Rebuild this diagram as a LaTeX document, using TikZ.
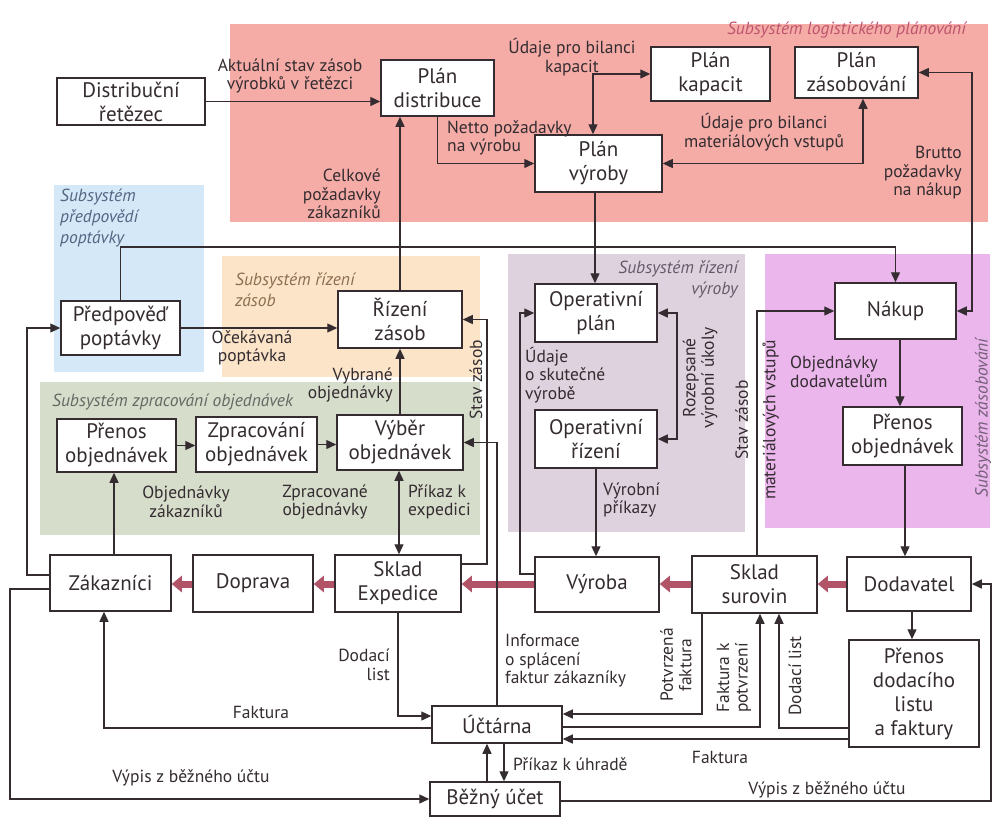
\documentclass[tikz,border=0pt]{standalone}
\usepackage{fontspec}
\setmainfont{PT Sans}
\usetikzlibrary{arrows.meta}
\definecolor{ink}{RGB}{52,44,48}
\definecolor{flow}{RGB}{178,84,104}
\definecolor{bgpink}{RGB}{245,172,167}
\definecolor{bgblue}{RGB}{212,232,247}
\definecolor{bgorange}{RGB}{251,228,200}
\definecolor{bggreen}{RGB}{214,221,203}
\definecolor{bgpurple}{RGB}{222,210,222}
\definecolor{bgmagenta}{RGB}{234,182,236}
\definecolor{tpink}{RGB}{190,85,110}
\definecolor{tblue}{RGB}{85,100,130}
\definecolor{torange}{RGB}{140,110,80}
\definecolor{tgreen}{RGB}{100,105,100}
\definecolor{tpurple}{RGB}{100,90,105}
\definecolor{tmagenta}{RGB}{115,95,120}
\begin{document}
\begin{tikzpicture}[x=1pt,y=-1pt,
  box/.style={draw=ink, line width=1.5pt, fill=white, inner sep=0pt, align=center, text=ink, font=\fontsize{21}{24}\selectfont},
  lbl/.style={inner sep=0pt, text=ink, font=\fontsize{17.5}{18.5}\selectfont},
  ttl/.style={inner sep=0pt, font=\fontsize{17.5}{21}\selectfont\itshape},
  con/.style={draw=ink, line width=1.3pt, -{Triangle[length=10pt,width=9pt]}},
  con2/.style={draw=ink, line width=1.3pt, {Triangle[length=10pt,width=9pt]}-{Triangle[length=10pt,width=9pt]}},
  flowarr/.style={draw=flow, line width=7pt, -{Triangle[length=10pt,width=16pt]}},
]
\useasboundingbox (0,0) rectangle (995,817);
\fill[white] (0,0) rectangle (995,817);

% subsystem backgrounds
\fill[bgpink] (230,24) rectangle (988,222);
\fill[bgblue] (54,185) rectangle (204,372);
\fill[bgorange] (222,256) rectangle (480,377);
\fill[bggreen] (40,382) rectangle (480,535);
\fill[bgpurple] (508,254) rectangle (745,532);
\fill[bgmagenta] (765,254) rectangle (990,528);

% subsystem titles
\node[ttl, text=tpink, anchor=east] (t1) at (966,30) {Subsystém logistického plánování};
\node[ttl, text=tblue, align=left, anchor=west] (t2) at (60,218) {Subsystém\\předpovědí\\poptávky};
\node[ttl, text=torange, align=left, anchor=west] (t3) at (235,290) {Subsystém řízení\\zásob};
\node[ttl, text=tgreen, anchor=west] (t4) at (52,402) {Subsystém zpracování objednávek};
\node[ttl, text=tpurple, align=right, anchor=east] (t5) at (738,279) {Subsystém řízení\\výroby};
\node[ttl, text=tmagenta, rotate=90] (t6) at (983,418) {Subsystém zásobování};

% boxes
\node[box, minimum width=148, minimum height=47] (dr) at (131,101.5) {Distribuční\\řetězec};
\node[box, minimum width=113, minimum height=56] (pd) at (437.5,88) {Plán\\distribuce};
\node[box, minimum width=119, minimum height=54] (pk) at (710.5,74) {Plán\\kapacit};
\node[box, minimum width=123, minimum height=51] (pz) at (856.5,72.5) {Plán\\zásobování};
\node[box, minimum width=127, minimum height=57] (pv) at (598.5,163.5) {Plán\\výroby};
\node[box, minimum width=119, minimum height=54] (pp) at (120.5,328) {Předpověď\\poptávky};
\node[box, minimum width=124, minimum height=57] (rz) at (400,319.5) {Řízení\\zásob};
\node[box, minimum width=119, minimum height=53] (po1) at (116.5,445.5) {Přenos\\objednávek};
\node[box, minimum width=121, minimum height=55] (zo) at (256.5,444.5) {Zpracování\\objednávek};
\node[box, minimum width=126, minimum height=55] (vo) at (400,442.5) {Výběr\\objednávek};
\node[box, minimum width=122, minimum height=58] (op) at (596,313) {Operativní\\plán};
\node[box, minimum width=122, minimum height=58] (or) at (596,439) {Operativní\\řízení};
\node[box, minimum width=121, minimum height=56] (nak) at (895.5,311) {Nákup};
\node[box, minimum width=119, minimum height=58] (po2) at (902.5,436) {Přenos\\objednávek};
\node[box, minimum width=121, minimum height=56] (zak) at (110.5,583) {Zákazníci};
\node[box, minimum width=120, minimum height=57] (dop) at (253,583.5) {Doprava};
\node[box, minimum width=126, minimum height=57] (se) at (398,583.5) {Sklad\\Expedice};
\node[box, minimum width=124, minimum height=55] (vyr) at (597,584.5) {Výroba};
\node[box, minimum width=125, minimum height=57] (ss) at (754.5,584.5) {Sklad\\surovin};
\node[box, minimum width=124, minimum height=54] (dod) at (909,584) {Dodavatel};
\node[box, minimum width=130, minimum height=107] (pdl) at (914,693.5) {Přenos\\dodacího\\listu\\a faktury};
\node[box, minimum width=130, minimum height=37] (uct) at (497,724.5) {Účtárna};
\node[box, minimum width=130, minimum height=34] (bu) at (495,799) {Běžný účet};

% material flow
\draw[flowarr] (dod.west |- 0,584) -- (ss.east |- 0,584);
\draw[flowarr] (ss.west |- 0,584) -- (vyr.east |- 0,584);
\draw[flowarr] (vyr.west |- 0,584) -- (se.east |- 0,584);
\draw[flowarr] (se.west |- 0,584) -- (dop.east |- 0,584);
\draw[flowarr] (dop.west |- 0,584) -- (zak.east |- 0,584);

% planning connectors
\draw[con] (dr.east) -- (dr.east -| pd.west);
\draw[con] (rz.north) -- (rz.north |- pd.south);
\draw[con] (pd.south) |- (pv.west);
\draw[con2] (593,0 |- pv.north) |- (pk.west);
\draw[con2] (pv.east) -| (863,0 |- pz.south);
\draw[con2] (pz.east) -| (972,0 |- nak.east) -- (nak.east);
\draw[con] (595,0 |- pv.south) -- (595,0 |- op.north);
\draw[con] (pp.north) -- (pp.north |- 0,247) -| (nak.north);
\draw[con] (pp.east) -- (pp.east -| rz.west);
\draw[con] (zak.west |- 0,575) -| (27,0 |- pp.west) -- (pp.west);
\draw[con] (114,0 |- zak.north) -- (114,0 |- po1.south);
\draw[con] (po1.east) -- (po1.east -| zo.west);
\draw[con] (zo.east) -- (zo.east -| vo.west);
\draw[con] (vo.north) -- (vo.north |- rz.south);
\draw[con2] (399,0 |- vo.south) -- (399,0 |- se.north);
\draw[con] (se.east |- 0,564) -| (487,0 |- rz.east) -- (rz.east);
\draw[con] (497,0 |- uct.north) |- (vo.east);
\draw[con] (vyr.west |- 0,574) -| (520,0 |- op.west) -- (op.west);
\draw[con2] (op.east) -| (677,0 |- or.east) -- (or.east);
\draw[con] (596,0 |- or.south) -- (596,0 |- vyr.north);
\draw[con] (757,0 |- ss.north) |- (nak.west);
\draw[con] (900,0 |- nak.south) -- (900,0 |- po2.north);
\draw[con] (905,0 |- po2.south) -- (905,0 |- dod.north);
\draw[con] (912,0 |- dod.south) -- (912,0 |- pdl.north);

% accounting connectors
\draw[con] (bu.east |- 0,801) -| (991,0 |- dod.east) -- (dod.east);
\draw[con] (zak.west |- 0,589) -| (10,0 |- bu.west) -- (bu.west);
\draw[con] (uct.west |- 0,728) -| (104,0 |- zak.south);
\draw[con] (398,0 |- se.south) |- (uct.west |- 0,716);
\draw[con] (702,0 |- ss.south) |- (uct.east |- 0,714);
\draw[con] (uct.east |- 0,727) -| (760,0 |- ss.south);
\draw[con] (pdl.west |- 0,728) -| (779,0 |- ss.south);
\draw[con] (pdl.west |- 0,739) -- (uct.east |- 0,739);
\draw[con] (487,0 |- bu.north) -- (487,0 |- uct.south);
\draw[con] (504,0 |- uct.south) -- (504,0 |- bu.north);

% connector labels
\node[lbl, align=center] (l1) at (290,76) {Aktuální stav zásob\\výrobků v řetězci};
\node[lbl, align=right, anchor=east] (l2) at (381,194) {Celkové\\požadavky\\zákazníků};
\node[lbl, align=left, anchor=west] (l3) at (447,138) {Netto požadavky\\na výrobu};
\node[lbl, align=center] (l4) at (572,57) {Údaje pro bilanci\\kapacit};
\node[lbl, align=center] (l5) at (764,132) {Údaje pro bilanci\\materiálových vstupů};
\node[lbl, align=right, anchor=east] (l6) at (962,173) {Brutto\\požadavky\\na nákup};
\node[lbl, align=center] (l7) at (252,348) {Očekávaná\\poptávka};
\node[lbl, align=right, anchor=east] (l8) at (393,385) {Vybrané\\objednávky};
\node[lbl, align=center] (l9) at (186,502) {Objednávky\\zákazníků};
\node[lbl, align=center] (l10) at (325,502) {Zpracované\\objednávky};
\node[lbl, align=left, anchor=west] (l11) at (408,502) {Příkaz k\\expedici};
\node[lbl, rotate=90] (l12) at (476,380) {Stav zásob};
\node[lbl, align=left, anchor=west] (l13) at (525,375) {Údaje\\o skutečné\\výrobě};
\node[lbl, rotate=90, align=center] (l14) at (700,378) {Rozepsané\\výrobní úkoly};
\node[lbl, align=left, anchor=west] (l15) at (603,500) {Výrobní\\příkazy};
\node[lbl, rotate=90, align=center] (l16) at (757,420) {Stav zásob\\[9pt]materiálových vstupů};
\node[lbl, align=left, anchor=west] (l17) at (790,372) {Objednávky\\dodavatelům};
\node[lbl, align=right, anchor=east] (l18) at (390,665) {Dodací\\list};
\node[lbl] (l19) at (261,712) {Faktura};
\node[lbl] (l20) at (191,778) {Výpis z běžného účtu};
\node[lbl, align=left, anchor=west] (l21) at (505,661) {Informace\\o splácení\\faktur zákazníky};
\node[lbl, rotate=90, align=center] (l22) at (676,665) {Potvrzená\\faktura};
\node[lbl, rotate=90, align=center] (l23) at (734,678) {Faktura k\\potvrzení};
\node[lbl, rotate=90] (l24) at (795,676) {Dodací list};
\node[lbl] (l25) at (720,757) {Faktura};
\node[lbl, anchor=west] (l26) at (513,764) {Příkaz k úhradě};
\node[lbl] (l27) at (827,790) {Výpis z běžného účtu};
\end{tikzpicture}
\end{document}
